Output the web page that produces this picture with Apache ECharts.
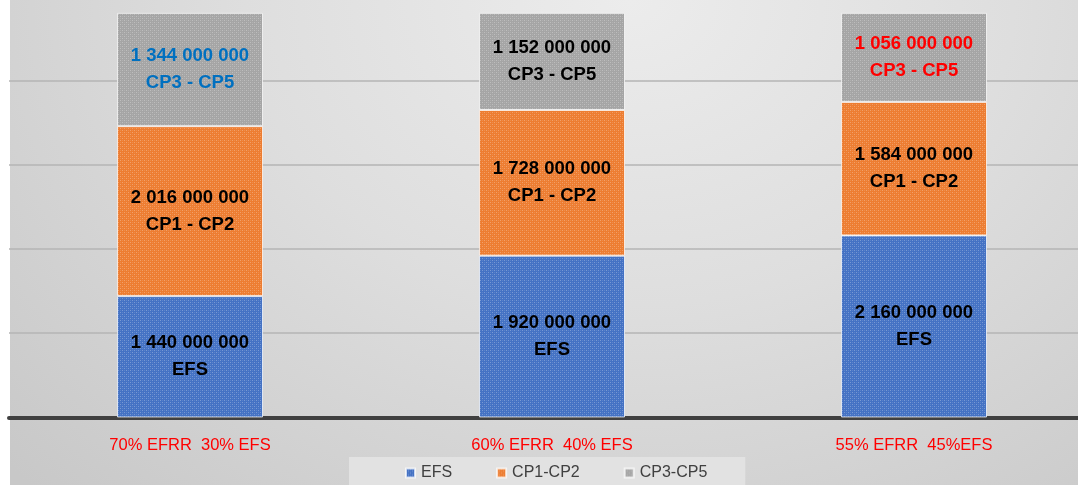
<!DOCTYPE html>
<html>
<head>
<meta charset="utf-8">
<script src="https://cdn.jsdelivr.net/npm/echarts@6/dist/echarts.min.js"></script>
<style>
  html, body { margin:0; padding:0; background:#ffffff; overflow:hidden; }
  #bg { position:absolute; left:10px; top:0; width:1068px; height:485px;
        background: radial-gradient(ellipse 80% 140% at 58% 0%, #ececec 0%, #dedede 45%, #c8c8c8 100%); }
  #chart { position:absolute; left:0; top:0; width:1078px; height:485px; }
</style>
</head>
<body>
<div id="bg"></div>
<div id="chart"></div>
<script>
// ---- data ----
const categories = ['70% EFRR  30% EFS', '60% EFRR  40% EFS', '55% EFRR  45%EFS'];
const seriesNames = ['EFS', 'CP1-CP2', 'CP3-CP5'];
const labelNames = ['EFS', 'CP1 - CP2', 'CP3 - CP5'];
const efs = [1440000000, 1920000000, 2160000000];
const cp1cp2 = [2016000000, 1728000000, 1584000000];
const cp3cp5 = [1344000000, 1152000000, 1056000000];
const yTicks = [0, 1000000000, 2000000000, 3000000000, 4000000000, 5000000000];

// ---- style ----
const baseColors = ['#4472C4', '#ED7D31', '#A5A5A5'];
const labelColors = [
  ['#000000', '#000000', '#000000'],
  ['#000000', '#000000', '#000000'],
  ['#0070C0', '#000000', '#FF0000']
];

function pattern(color) {
  const c = document.createElement('canvas');
  c.width = 4; c.height = 4;
  const g = c.getContext('2d');
  g.fillStyle = color; g.fillRect(0, 0, 4, 4);
  g.fillStyle = 'rgba(255,255,255,0.28)';
  g.fillRect(0, 0, 1, 1); g.fillRect(2, 2, 1, 1);
  g.fillStyle = 'rgba(255,255,255,0.12)';
  g.fillRect(2, 0, 1, 1); g.fillRect(0, 2, 1, 1);
  return { image: c, repeat: 'repeat' };
}

function fmt(v) {
  return String(v).replace(/\B(?=(\d{3})+(?!\d))/g, ' ');
}

const valueSets = [efs, cp1cp2, cp3cp5];
const chart = echarts.init(document.getElementById('chart'), null, { renderer: 'canvas' });

const series = valueSets.map((vals, si) => ({
  name: seriesNames[si],
  type: 'bar',
  stack: 'total',
  barWidth: 146,
  itemStyle: { color: pattern(baseColors[si]), borderColor: 'rgba(255,255,255,0.7)', borderWidth: 1 },
  data: vals.map((v, ci) => ({
    value: v,
    label: { color: labelColors[si][ci] }
  })),
  label: {
    show: true,
    position: 'inside',
    fontFamily: 'Liberation Sans',
    fontWeight: 'bold',
    fontSize: 18.5,
    lineHeight: 27,
    formatter: p => fmt(p.value) + '\n' + labelNames[si]
  }
}));

chart.setOption({
  animation: false,
  backgroundColor: 'transparent',
  grid: { left: 9, width: 1086, top: -4, height: 421.5, outerBoundsMode: 'none', containLabel: false },
  legend: {
    data: seriesNames,
    left: 349,
    top: 457,
    orient: 'horizontal',
    backgroundColor: '#e2e2e2',
    padding: [8, 38, 12, 56],
    itemWidth: 9,
    itemHeight: 9,
    itemGap: 44,
    icon: 'rect',
    textStyle: { fontFamily: 'Liberation Sans', fontSize: 16, color: '#404040', padding: [0, 0, 0, 1] }
  },
  xAxis: {
    type: 'category',
    data: categories,
    axisLine: { lineStyle: { color: '#404040', width: 4 } },
    axisTick: { show: false },
    axisLabel: { color: '#FF0000', fontFamily: 'Liberation Sans', fontSize: 16.5, margin: 20, lineHeight: 16 }
  },
  yAxis: {
    type: 'value',
    min: yTicks[0],
    max: yTicks[yTicks.length - 1],
    interval: yTicks[1] - yTicks[0],
    axisLabel: { show: false },
    axisLine: { show: false },
    axisTick: { show: false },
    splitLine: { lineStyle: { color: '#b4b4b4', width: 1.5 } }
  },
  series: series
});
</script>
</body>
</html>
